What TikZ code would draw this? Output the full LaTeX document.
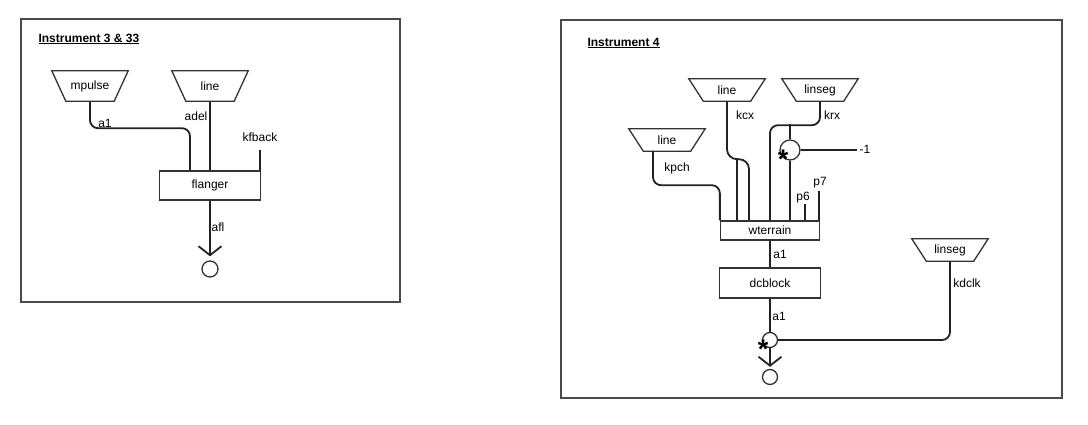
\documentclass[tikz,border=0pt]{standalone}
\usepackage{fontspec}
\setmainfont{Liberation Sans}
\usetikzlibrary{arrows.meta}
\definecolor{ink}{HTML}{222222}
\definecolor{rim}{HTML}{333333}
\definecolor{frm}{HTML}{4A4A4A}

\begin{document}
\begin{tikzpicture}[x=1pt,y=-1pt,font=\fontsize{12}{14}\selectfont,
    wire/.style={draw=ink,line width=1.8pt,rounded corners=8pt},
    box/.style={draw=rim,line width=1.3pt,inner sep=0pt},
    trap/.style={minimum width=76pt,inner sep=0pt},
    circ/.style={draw=rim,line width=1.3pt,circle,inner sep=0pt,minimum size=#1},
    lbl/.style={inner sep=0pt},
    mulmark/.style={inner sep=0pt,font=\fontsize{27}{27}\selectfont\bfseries},
    sink/.style={-{Straight Barb[length=9pt,width=23pt]}}]
        \useasboundingbox (0,0) rectangle (1088,425);
        \draw[frm,line width=2pt] (21,19) rectangle (400,302);
        \draw[frm,line width=2pt] (561,20) rectangle (1062,398);
        \node[anchor=west,font=\fontsize{12}{14}\selectfont\bfseries] (ttl1) at (35,39) {\underline{Instrument 3 \& 33}};
        \node[anchor=west,font=\fontsize{12}{14}\selectfont\bfseries] (ttl2) at (584,43) {\underline{Instrument 4}};
        \node[trap,minimum height=30pt] (mpulse) at (90,86) {mpulse};
        \node[trap,minimum height=30pt] (line1) at (210,86) {line};
        \node[box,minimum width=101pt,minimum height=29pt] (flanger) at (210,185.5) {flanger};
        \node[circ=16pt] (out1) at (210,269) {};
        \coordinate (kfback) at (260,150);
        \draw[wire] (mpulse.south) -- ++(0,27) -| ([xshift=-20pt]flanger.north);
        \draw[wire] (line1.south) -- (flanger.north);
        \draw[wire] (kfback) -- (kfback |- flanger.north);
        \draw[wire,sink,shorten >=4pt] (flanger.south) -- (out1.north);
        \node[lbl] (l1) at (105,123) {a1};
        \node[lbl] (l2) at (196,116) {adel};
        \node[lbl] (l3) at (260,137) {kfback};
        \node[lbl] (l4) at (218,227) {afl};
        \node[trap,minimum height=22pt] (line2) at (727,90) {line};
        \node[trap,minimum height=22pt] (linseg1) at (820,90) {linseg};
        \node[trap,minimum height=22pt] (line3) at (667,140) {line};
        \node[trap,minimum height=22pt] (linseg2) at (950,250) {linseg};
        \foreach \n/\d in {mpulse/14,line1/14,line2/14.5,linseg1/14.5,line3/14.5,linseg2/14.5}
          \draw[rim,line width=1.3pt] (\n.north west) -- (\n.north east)
            -- ([xshift=-\d pt]\n.south east) -- ([xshift=\d pt]\n.south west) -- cycle;
        \node[box,minimum width=99pt,minimum height=19pt] (wterrain) at (770,230.5) {wterrain};
        \node[box,minimum width=101pt,minimum height=30pt] (dcblock) at (770,283) {dcblock};
        \node[circ=20pt] (mul1) at (790,150) {};
        \node[circ=15pt] (mul2) at (770,340) {};
        \node[circ=15pt] (out2) at (770,377) {};
        \coordinate (kcxb) at (737,158);
        \coordinate (krxb) at (790,124);
        \coordinate (neg) at (857,150);
        \coordinate (p6) at (805,204);
        \coordinate (p7) at (819,191);
        \draw[wire] ([xshift=-14pt]line3.south) -- ++(0,34) -| (wterrain.north west);
        \draw[wire,rounded corners=10pt] (line2.south) -- ++(0,58) -| ([xshift=-21pt]wterrain.north);
        \draw[wire] (kcxb) -- (kcxb |- wterrain.north);
        \draw[wire] (linseg1.south) -- ++(0,24) -| (wterrain.north);
        \draw[wire] (krxb) -- (mul1.north);
        \draw[wire] (mul1.south) -- (mul1.south |- wterrain.north);
        \draw[wire] (mul1.east) -- (neg);
        \draw[wire] (p6) -- (p6 |- wterrain.north);
        \draw[wire] (p7) -- (p7 |- wterrain.north);
        \draw[wire] (wterrain.south) -- (dcblock.north);
        \draw[wire] (dcblock.south) -- (mul2.north);
        \draw[wire] (linseg2.south) |- (mul2.east);
        \draw[wire,sink,shorten >=2pt] (mul2.south) -- (out2.north);
        \node[mulmark] (s1) at (783,159) {*};
        \node[mulmark] (s2) at (763,349) {*};
        \node[lbl] (l5) at (677,168) {kpch};
        \node[lbl] (l6) at (745,115) {kcx};
        \node[lbl] (l7) at (832,115) {krx};
        \node[lbl] (l8) at (865,149) {-1};
        \node[lbl] (l9) at (803,198) {p6};
        \node[lbl] (l10) at (820,183) {p7};
        \node[lbl] (l11) at (780,254) {a1};
        \node[lbl] (l12) at (779,316) {a1};
        \node[lbl] (l13) at (967,283) {kdclk};
      \end{tikzpicture}
\end{document}
